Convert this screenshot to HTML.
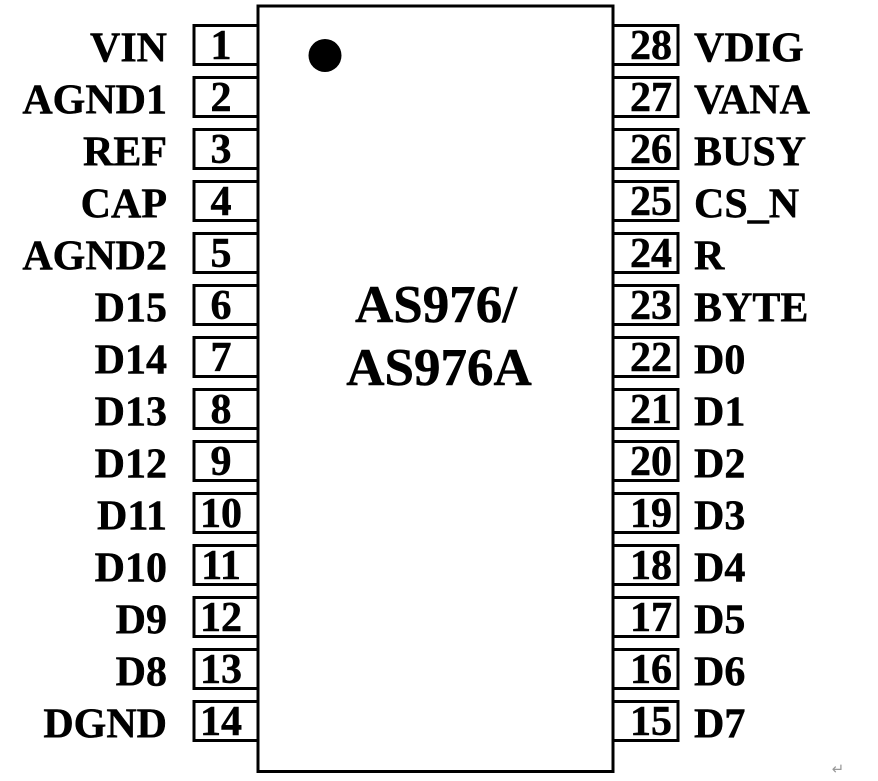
<!DOCTYPE html>
<html>
<head>
<meta charset="utf-8">
<style>
html,body{margin:0;padding:0;background:#fff;}
svg{display:block;}
text{font-family:"Liberation Serif","Times New Roman",serif;font-weight:bold;fill:#000;stroke:#000;stroke-width:0.5;}
</style>
</head>
<body>
<svg width="878" height="781" viewBox="0 0 878 781" xmlns="http://www.w3.org/2000/svg">
<rect x="0" y="0" width="878" height="781" fill="#fff"/>
<!-- chip body -->
<rect x="258" y="6" width="355" height="765.5" fill="none" stroke="#000" stroke-width="3"/>
<circle cx="325" cy="55.5" r="16.5" fill="#000"/>
<!-- left pin boxes -->
<g fill="none" stroke="#000" stroke-width="3">
<rect x="194" y="25.5" width="64" height="39"/>
<rect x="194" y="77.5" width="64" height="39"/>
<rect x="194" y="129.5" width="64" height="39"/>
<rect x="194" y="181.5" width="64" height="39"/>
<rect x="194" y="233.5" width="64" height="39"/>
<rect x="194" y="285.5" width="64" height="39"/>
<rect x="194" y="337.5" width="64" height="39"/>
<rect x="194" y="389.5" width="64" height="39"/>
<rect x="194" y="441.5" width="64" height="39"/>
<rect x="194" y="493.5" width="64" height="39"/>
<rect x="194" y="545.5" width="64" height="39"/>
<rect x="194" y="597.5" width="64" height="39"/>
<rect x="194" y="649.5" width="64" height="39"/>
<rect x="194" y="701.5" width="64" height="39"/>
<!-- right pin boxes -->
<rect x="613" y="25.5" width="65" height="39"/>
<rect x="613" y="77.5" width="65" height="39"/>
<rect x="613" y="129.5" width="65" height="39"/>
<rect x="613" y="181.5" width="65" height="39"/>
<rect x="613" y="233.5" width="65" height="39"/>
<rect x="613" y="285.5" width="65" height="39"/>
<rect x="613" y="337.5" width="65" height="39"/>
<rect x="613" y="389.5" width="65" height="39"/>
<rect x="613" y="441.5" width="65" height="39"/>
<rect x="613" y="493.5" width="65" height="39"/>
<rect x="613" y="545.5" width="65" height="39"/>
<rect x="613" y="597.5" width="65" height="39"/>
<rect x="613" y="649.5" width="65" height="39"/>
<rect x="613" y="701.5" width="65" height="39"/>
</g>
<!-- left labels -->
<g font-size="42" text-anchor="end">
<text x="167" y="61.5">VIN</text>
<text x="167" y="113.5">AGND1</text>
<text x="167" y="165.5">REF</text>
<text x="167" y="217.5">CAP</text>
<text x="167" y="269.5">AGND2</text>
<text x="167" y="321.5">D15</text>
<text x="167" y="373.5">D14</text>
<text x="167" y="425.5">D13</text>
<text x="167" y="477.5">D12</text>
<text x="167" y="529.5">D11</text>
<text x="167" y="581.5">D10</text>
<text x="167" y="633.5">D9</text>
<text x="167" y="685.5">D8</text>
<text x="167" y="737.5">DGND</text>
</g>
<!-- left numbers -->
<g font-size="42" text-anchor="middle">
<text x="221" y="59">1</text>
<text x="221" y="111">2</text>
<text x="221" y="163">3</text>
<text x="221" y="215">4</text>
<text x="221" y="267">5</text>
<text x="221" y="319">6</text>
<text x="221" y="371">7</text>
<text x="221" y="423">8</text>
<text x="221" y="475">9</text>
<text x="221" y="527">10</text>
<text x="221" y="579">11</text>
<text x="221" y="631">12</text>
<text x="221" y="683">13</text>
<text x="221" y="735">14</text>
</g>
<!-- right numbers -->
<g font-size="42" text-anchor="middle">
<text x="651" y="59">28</text>
<text x="651" y="111">27</text>
<text x="651" y="163">26</text>
<text x="651" y="215">25</text>
<text x="651" y="267">24</text>
<text x="651" y="319">23</text>
<text x="651" y="371">22</text>
<text x="651" y="423">21</text>
<text x="651" y="475">20</text>
<text x="651" y="527">19</text>
<text x="651" y="579">18</text>
<text x="651" y="631">17</text>
<text x="651" y="683">16</text>
<text x="651" y="735">15</text>
</g>
<!-- right labels -->
<g font-size="42" text-anchor="start">
<text x="694" y="61.5">VDIG</text>
<text x="694" y="113.5">VANA</text>
<text x="694" y="165.5">BUSY</text>
<text x="694" y="217.5">CS_N</text>
<text x="694" y="269.5">R</text>
<text x="694" y="321.5">BYTE</text>
<text x="694" y="373.5">D0</text>
<text x="694" y="425.5">D1</text>
<text x="694" y="477.5">D2</text>
<text x="694" y="529.5">D3</text>
<text x="694" y="581.5">D4</text>
<text x="694" y="633.5">D5</text>
<text x="694" y="685.5">D6</text>
<text x="694" y="737.5">D7</text>
</g>
<!-- center title -->
<g font-size="53" text-anchor="middle">
<text x="436" y="322">AS976/</text>
<text x="439" y="385">AS976A</text>
</g>
<text x="838" y="774" font-size="15" text-anchor="middle" style="font-weight:normal;fill:#999;stroke:none;font-family:'DejaVu Sans',sans-serif;">↵</text>
</svg>
</body>
</html>
